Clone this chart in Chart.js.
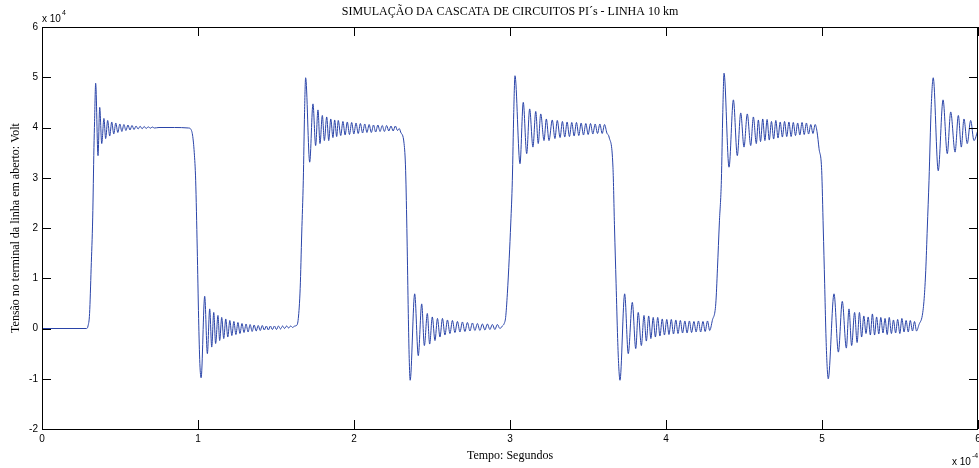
<!DOCTYPE html>
<html>
<head>
<meta charset="utf-8">
<script src="https://cdn.jsdelivr.net/npm/chart.js@4.4.0/dist/chart.umd.min.js"></script>
<style>
  html, body { margin: 0; padding: 0; background: #fff; }
</style>
</head>
<body>
<canvas id="grafico" width="979" height="468"></canvas>
<script>
// tempo em unidades de 1e-4 s, tensão em unidades de 1e4 V
const repouso = [[0, 0], [0.285, 0], [0.295, 0.05], [0.305, 0.3], [0.315, 1.2], [0.325, 2.2], [0.333, 3.6], [0.337, 4.12]];
const alto1 = [
  [0.344, 4.88], [0.359, 3.44], [0.370, 4.40], [0.383, 3.68], [0.397, 4.18], [0.408, 3.78], [0.421, 4.14], [0.434, 3.83],
  [0.447, 4.11], [0.460, 3.87], [0.473, 4.09], [0.486, 3.90], [0.499, 4.07], [0.512, 3.92], [0.525, 4.06], [0.538, 3.94],
  [0.551, 4.05], [0.564, 3.95], [0.577, 4.04], [0.590, 3.96], [0.603, 4.03], [0.616, 3.97], [0.629, 4.025], [0.642, 3.975],
  [0.655, 4.02], [0.668, 3.98], [0.681, 4.015], [0.694, 3.985], [0.707, 4.01], [0.720, 3.99], [0.750, 4.0], [0.850, 4.0],
  [0.940, 3.99], [0.953, 3.97], [0.965, 3.85], [0.976, 3.5], [0.985, 2.95], [0.995, 1.6], [1.004, 0.2], [1.012, -0.7]
];
const baixo1 = [
  [1.020, -0.98], [1.043, 0.64], [1.060, -0.50], [1.075, 0.39], [1.088, -0.37], [1.101, 0.32], [1.113, -0.30], [1.128, 0.26],
  [1.139, -0.24], [1.152, 0.22], [1.165, -0.20], [1.178, 0.19], [1.191, -0.17], [1.204, 0.16], [1.217, -0.14], [1.230, 0.14],
  [1.243, -0.12], [1.256, 0.12], [1.269, -0.10], [1.282, 0.10], [1.295, -0.08], [1.308, 0.09], [1.321, -0.07], [1.334, 0.08],
  [1.347, -0.06], [1.360, 0.07], [1.373, -0.05], [1.386, 0.06], [1.399, -0.04], [1.412, 0.06], [1.425, -0.03], [1.438, 0.05],
  [1.451, -0.03], [1.464, 0.05], [1.477, -0.02], [1.490, 0.05], [1.503, -0.02], [1.516, 0.05], [1.529, -0.01], [1.542, 0.05],
  [1.555, 0.00], [1.568, 0.05], [1.581, 0.01], [1.594, 0.05], [1.607, 0.02], [1.620, 0.05], [1.632, 0.06], [1.643, 0.2],
  [1.655, 0.8], [1.665, 1.9], [1.675, 2.95], [1.683, 4.3]
];
const alto2 = [
  [1.690, 4.99], [1.716, 3.31], [1.737, 4.47], [1.754, 3.64], [1.769, 4.35], [1.782, 3.68], [1.797, 4.24], [1.810, 3.74],
  [1.825, 4.21], [1.838, 3.74], [1.851, 4.17], [1.865, 3.80], [1.876, 4.15], [1.889, 3.82], [1.899, 4.14], [1.915, 3.84],
  [1.929, 4.12], [1.943, 3.85], [1.957, 4.11], [1.971, 3.86], [1.985, 4.10], [1.999, 3.87], [2.013, 4.09], [2.027, 3.88],
  [2.041, 4.08], [2.055, 3.89], [2.069, 4.07], [2.083, 3.90], [2.097, 4.06], [2.111, 3.90], [2.125, 4.05], [2.139, 3.91],
  [2.153, 4.05], [2.167, 3.92], [2.181, 4.04], [2.195, 3.92], [2.209, 4.04], [2.223, 3.93], [2.237, 4.03], [2.251, 3.93],
  [2.265, 4.03], [2.279, 3.94], [2.290, 3.98], [2.299, 3.91], [2.321, 3.68], [2.331, 3.14], [2.340, 1.8], [2.348, 0.3],
  [2.354, -0.6]
];
const baixo2 = [
  [2.360, -1.03], [2.389, 0.69], [2.412, -0.54], [2.434, 0.49], [2.451, -0.34], [2.470, 0.30], [2.485, -0.31], [2.502, 0.23],
  [2.519, -0.24], [2.535, 0.20], [2.551, -0.17], [2.567, 0.20], [2.583, -0.13], [2.599, 0.17], [2.615, -0.10], [2.631, 0.16],
  [2.647, -0.08], [2.663, 0.14], [2.679, -0.07], [2.695, 0.13], [2.711, -0.06], [2.727, 0.12], [2.743, -0.05], [2.759, 0.11],
  [2.775, -0.04], [2.791, 0.10], [2.807, -0.04], [2.823, 0.09], [2.839, -0.03], [2.855, 0.09], [2.871, -0.02], [2.887, 0.08],
  [2.903, -0.02], [2.919, 0.08], [2.935, 0.00], [2.951, 0.05], [2.963, 0.10], [2.972, 0.22], [2.983, 0.69], [2.995, 1.4],
  [3.005, 2.1], [3.015, 2.95], [3.024, 4.3]
];
const alto3 = [
  [3.032, 5.03], [3.064, 3.28], [3.085, 4.50], [3.107, 3.48], [3.126, 4.37], [3.147, 3.61], [3.165, 4.32], [3.181, 3.68],
  [3.197, 4.27], [3.218, 3.74], [3.233, 4.17], [3.250, 3.74], [3.271, 4.15], [3.288, 3.78], [3.303, 4.14], [3.321, 3.80],
  [3.336, 4.12], [3.351, 3.81], [3.366, 4.11], [3.381, 3.82], [3.396, 4.10], [3.411, 3.83], [3.426, 4.10], [3.441, 3.84],
  [3.456, 4.09], [3.471, 3.85], [3.486, 4.08], [3.501, 3.86], [3.516, 4.08], [3.531, 3.87], [3.546, 4.07], [3.561, 3.88],
  [3.576, 4.07], [3.591, 3.88], [3.606, 4.06], [3.621, 3.89], [3.635, 3.81], [3.660, 3.21], [3.670, 2.0], [3.680, 0.9],
  [3.690, -0.2], [3.697, -0.75]
];
const baixo3 = [
  [3.705, -1.03], [3.735, 0.69], [3.758, -0.50], [3.784, 0.52], [3.806, -0.40], [3.822, 0.32], [3.842, -0.34], [3.859, 0.26],
  [3.874, -0.25], [3.889, 0.25], [3.903, -0.20], [3.918, 0.22], [3.932, -0.17], [3.947, 0.22], [3.961, -0.15], [3.976, 0.19],
  [3.990, -0.13], [4.005, 0.18], [4.019, -0.12], [4.034, 0.18], [4.048, -0.11], [4.063, 0.17], [4.077, -0.10], [4.092, 0.16],
  [4.106, -0.09], [4.121, 0.15], [4.135, -0.09], [4.150, 0.15], [4.164, -0.08], [4.179, 0.14], [4.193, -0.07], [4.208, 0.15],
  [4.222, -0.07], [4.237, 0.14], [4.251, -0.06], [4.266, 0.15], [4.280, -0.04], [4.297, 0.16], [4.319, 0.49], [4.330, 1.2],
  [4.342, 2.1], [4.355, 2.95], [4.364, 4.3]
];
const alto4 = [
  [4.372, 5.08], [4.404, 3.21], [4.432, 4.55], [4.457, 3.44], [4.479, 4.29], [4.500, 3.61], [4.521, 4.27], [4.543, 3.64],
  [4.560, 4.21], [4.579, 3.68], [4.592, 4.15], [4.606, 3.72], [4.620, 4.17], [4.634, 3.74], [4.648, 4.16], [4.662, 3.75],
  [4.676, 4.12], [4.690, 3.77], [4.704, 4.14], [4.718, 3.79], [4.732, 4.11], [4.746, 3.81], [4.760, 4.12], [4.774, 3.82],
  [4.788, 4.11], [4.802, 3.82], [4.816, 4.10], [4.830, 3.84], [4.844, 4.09], [4.858, 3.85], [4.872, 4.10], [4.886, 3.86],
  [4.900, 4.09], [4.914, 3.87], [4.928, 4.06], [4.942, 3.88], [4.956, 4.06], [4.968, 3.92], [4.981, 3.58], [4.998, 3.14],
  [5.008, 2.0], [5.017, 0.9], [5.025, -0.1], [5.032, -0.7]
];
const baixo4 = [
  [5.040, -1.0], [5.077, 0.69], [5.105, -0.47], [5.130, 0.54], [5.156, -0.39], [5.173, 0.39], [5.190, -0.34], [5.209, 0.32],
  [5.225, -0.28], [5.240, 0.32], [5.254, -0.17], [5.268, 0.25], [5.282, -0.10], [5.296, 0.23], [5.310, -0.13], [5.323, 0.29],
  [5.337, -0.13], [5.350, 0.23], [5.364, -0.11], [5.377, 0.22], [5.391, -0.09], [5.404, 0.20], [5.418, -0.12], [5.431, 0.22],
  [5.445, -0.10], [5.458, 0.17], [5.472, -0.09], [5.485, 0.18], [5.499, -0.10], [5.512, 0.20], [5.526, -0.07], [5.539, 0.16],
  [5.553, -0.07], [5.566, 0.16], [5.580, -0.05], [5.593, 0.14], [5.606, -0.05], [5.622, 0.08], [5.643, 0.26], [5.655, 0.6],
  [5.665, 1.15], [5.675, 2.0], [5.686, 2.95], [5.700, 4.4]
];
const alto5 = [
  [5.713, 4.99], [5.745, 3.14], [5.776, 4.55], [5.803, 3.48], [5.825, 4.31], [5.853, 3.51], [5.874, 4.24], [5.893, 3.61],
  [5.910, 4.17], [5.931, 3.68], [5.953, 4.14], [5.974, 3.74], [6.0, 3.95]
];

const ticksX = [0, 1, 2, 3, 4, 5, 6];
const ticksY = [-2, -1, 0, 1, 2, 3, 4, 5, 6];
const titulo = "SIMULAÇÃO DA CASCATA DE CIRCUITOS PI´s - LINHA 10 km";
const rotuloX = "Tempo: Segundos";
const rotuloY = "Tensão no terminal da linha em aberto: Volt";
const expoenteX = "-4";
const expoenteY = "4";

const trechos = [repouso, alto1, baixo1, alto2, baixo2, alto3, baixo3, alto4, baixo4, alto5];
const pontos = [];
trechos.forEach(function(t) {
  t.forEach(function(p) { pontos.push({ x: p[0], y: p[1] }); });
});

const SANS = "'Liberation Sans', Arial, sans-serif";
const SERIF = "'Liberation Serif', 'Times New Roman', serif";

// caixa estilo matlab: moldura, marcas para dentro, titulos e expoentes
const moldura = {
  id: "moldura",
  afterDraw: function(chart) {
    const ctx = chart.ctx, a = chart.chartArea;
    const sx = chart.scales.x, sy = chart.scales.y;
    const tl = 9;
    ctx.save();
    ctx.strokeStyle = "#000";
    ctx.lineWidth = 1;
    ctx.beginPath();
    ticksX.forEach(function(v) {
      const px = Math.round(sx.getPixelForValue(v)) + 0.5;
      ctx.moveTo(px, a.bottom); ctx.lineTo(px, a.bottom - tl);
      ctx.moveTo(px, a.top); ctx.lineTo(px, a.top + tl);
    });
    ticksY.forEach(function(v) {
      const py = Math.round(sy.getPixelForValue(v)) + 0.5;
      ctx.moveTo(a.left, py); ctx.lineTo(a.left + tl, py);
      ctx.moveTo(a.right, py); ctx.lineTo(a.right - tl, py);
    });
    ctx.stroke();
    ctx.strokeRect(a.left + 0.5, a.top + 0.5, a.right - a.left - 1, a.bottom - a.top);

    ctx.fillStyle = "#000";
    ctx.textAlign = "center";
    ctx.textBaseline = "middle";
    const cx = (a.left + a.right) / 2;
    ctx.font = "12px " + SERIF;
    ctx.fillText(titulo, cx, 12);
    ctx.fillText(rotuloX, cx, 456);
    ctx.save();
    ctx.translate(16, (a.top + a.bottom) / 2);
    ctx.rotate(-Math.PI / 2);
    ctx.fillText(rotuloY, 0, 0);
    ctx.restore();

    ctx.textAlign = "left";
    ctx.textBaseline = "alphabetic";
    ctx.font = "10px " + SANS;
    ctx.fillText("x 10", 42, 22);
    const wy = ctx.measureText("x 10").width;
    ctx.fillText("x 10", 952, 465);
    const wx = ctx.measureText("x 10").width;
    ctx.font = "7px " + SANS;
    ctx.fillText(expoenteY, 42 + wy + 1, 15);
    ctx.fillText(expoenteX, 952 + wx + 1, 458);
    ctx.restore();
  }
};

new Chart(document.getElementById("grafico"), {
  type: "scatter",
  data: {
    datasets: [{
      data: pontos,
      showLine: true,
      borderColor: "#2a44a8",
      borderWidth: 1,
      pointRadius: 0,
      fill: false,
      cubicInterpolationMode: "monotone"
    }]
  },
  options: {
    responsive: false,
    animation: false,
    layout: { padding: { top: 27, right: 1, left: 0, bottom: 0 } },
    plugins: { legend: { display: false }, tooltip: { enabled: false }, title: { display: false } },
    scales: {
      x: {
        type: "linear", min: 0, max: 6,
        afterBuildTicks: function(s) { s.ticks = ticksX.map(function(v) { return { value: v }; }); },
        ticks: { padding: 4, color: "#000", maxRotation: 0, autoSkip: false, font: { family: SANS, size: 10 } },
        grid: { display: false, drawTicks: false },
        border: { display: false },
        afterFit: function(s) { s.height = 39; s.paddingLeft = 0; s.paddingRight = 0; }
      },
      y: {
        type: "linear", min: -2, max: 6,
        afterBuildTicks: function(s) { s.ticks = ticksY.map(function(v) { return { value: v }; }); },
        ticks: { padding: 4, color: "#000", font: { family: SANS, size: 10 } },
        grid: { display: false, drawTicks: false },
        border: { display: false },
        afterFit: function(s) { s.width = 42; s.paddingTop = 0; s.paddingBottom = 0; }
      }
    }
  },
  plugins: [moldura]
});
</script>
</body>
</html>
